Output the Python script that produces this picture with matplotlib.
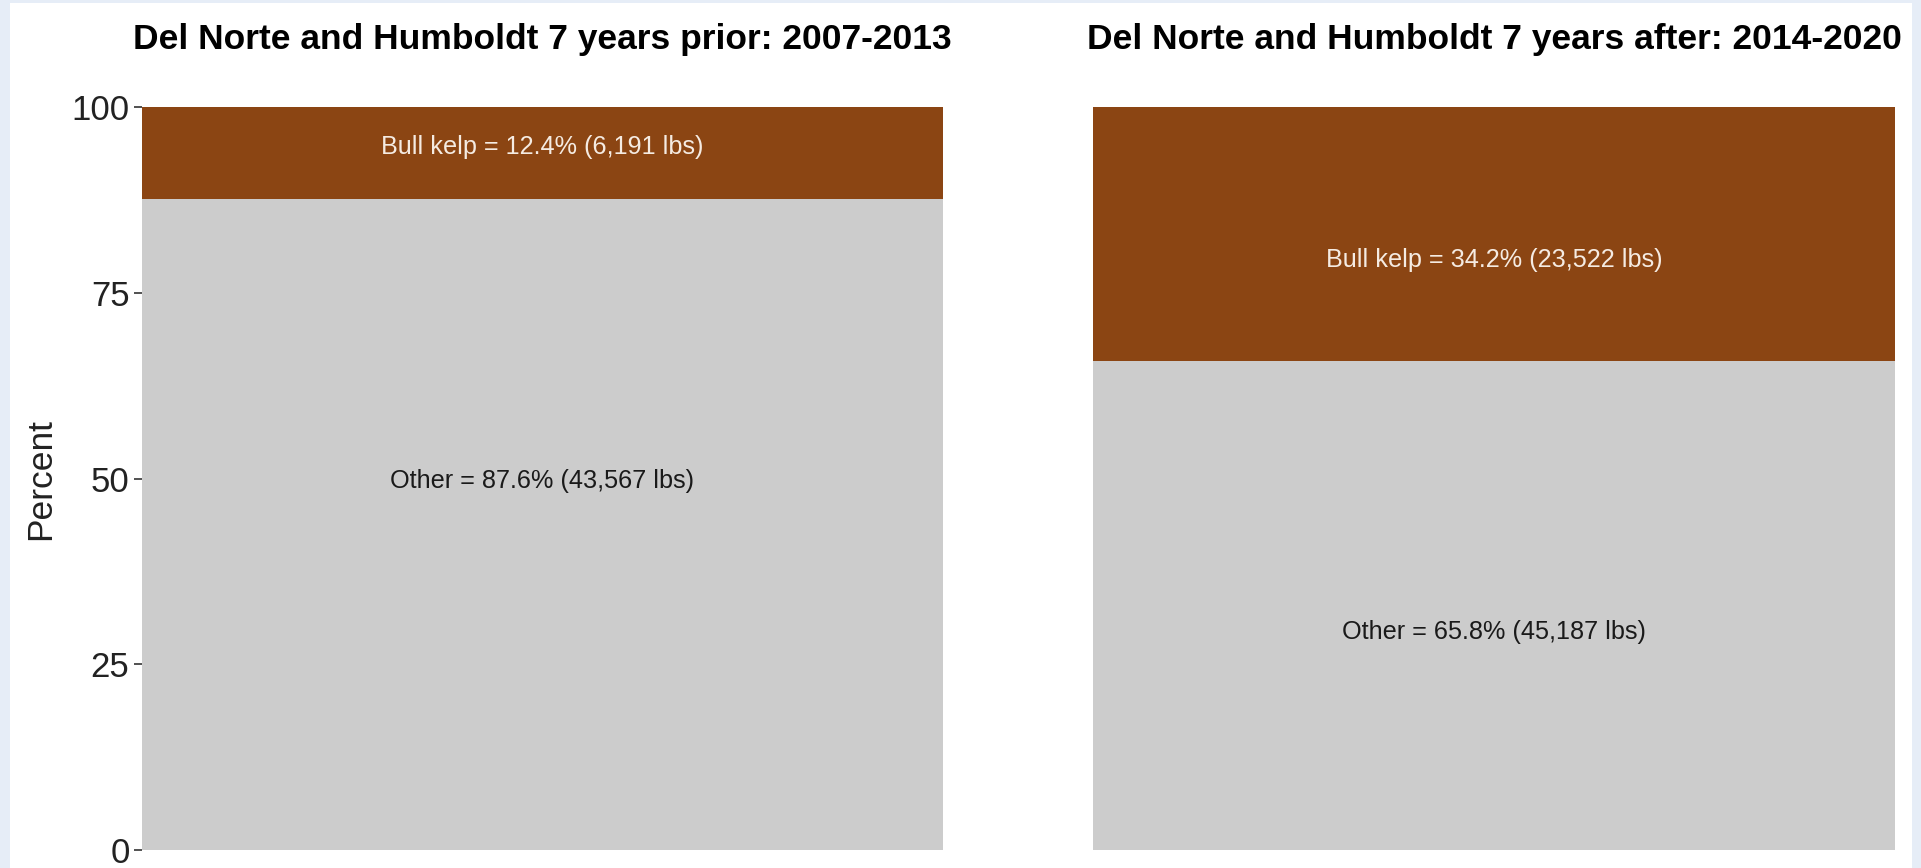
import matplotlib.pyplot as plt
from matplotlib.patches import Rectangle

plt.rcParams['font.family'] = ['Liberation Sans', 'DejaVu Sans']

# Data
panels = ['Del Norte and Humboldt 7 years prior: 2007-2013',
          'Del Norte and Humboldt 7 years after: 2014-2020']
other_pct = [87.6, 65.8]
kelp_pct = [12.4, 34.2]
other_lbs = ['43,567', '45,187']
kelp_lbs = ['6,191', '23,522']

# label heights as they sit in the picture
other_label_y = [49.6, 29.3]
kelp_label_y = [94.6, 79.4]

W, H = 1921, 868
fig = plt.figure(figsize=(W / 100, H / 100), dpi=100)
fig.patch.set_facecolor('#e6edf7')
fig.patches.append(Rectangle((10 / W, 0), (1912 - 10) / W, (H - 3) / H,
                             transform=fig.transFigure, facecolor='white',
                             edgecolor='none', zorder=-10))

def px_axes(x0, x1, y0, y1):
    return fig.add_axes([x0 / W, 1 - y1 / H, (x1 - x0) / W, (y1 - y0) / H])

axes = [px_axes(142, 943, 107, 850), px_axes(1093, 1895, 107, 850)]

for i, ax in enumerate(axes):
    ax.set_facecolor('white')
    ax.bar(0, other_pct[i], width=1, color='#cccccc', linewidth=0)
    ax.bar(0, kelp_pct[i], width=1, bottom=other_pct[i], color='#8b4513', linewidth=0)
    ax.set_xlim(-0.5, 0.5)
    ax.set_ylim(0, 100)
    for s in ax.spines.values():
        s.set_visible(False)
    ax.set_xticks([])
    ax.text(0, other_label_y[i], 'Other = %.1f%% (%s lbs)' % (other_pct[i], other_lbs[i]),
            ha='center', va='center', fontsize=18.2, color='#1a1a1a')
    ax.text(0, kelp_label_y[i], 'Bull kelp = %.1f%% (%s lbs)' % (kelp_pct[i], kelp_lbs[i]),
            ha='center', va='center', fontsize=18.2, color='#f5ebe2')
    ax.text(0.5, 1 + (107 - 49) / 743, panels[i], transform=ax.transAxes,
            ha='center', va='baseline', fontsize=25.5, fontweight='bold', color='black')

axes[0].set_yticks([0, 25, 50, 75, 100])
axes[0].tick_params(axis='y', labelsize=25, length=6, width=1.2, color='#333333',
                    labelcolor='#222222', pad=3)
axes[0].set_ylabel('Percent', fontsize=25.5, labelpad=10, color='#222222')
axes[1].set_yticks([])

fig.savefig('out.png', dpi=100, facecolor=fig.get_facecolor())
